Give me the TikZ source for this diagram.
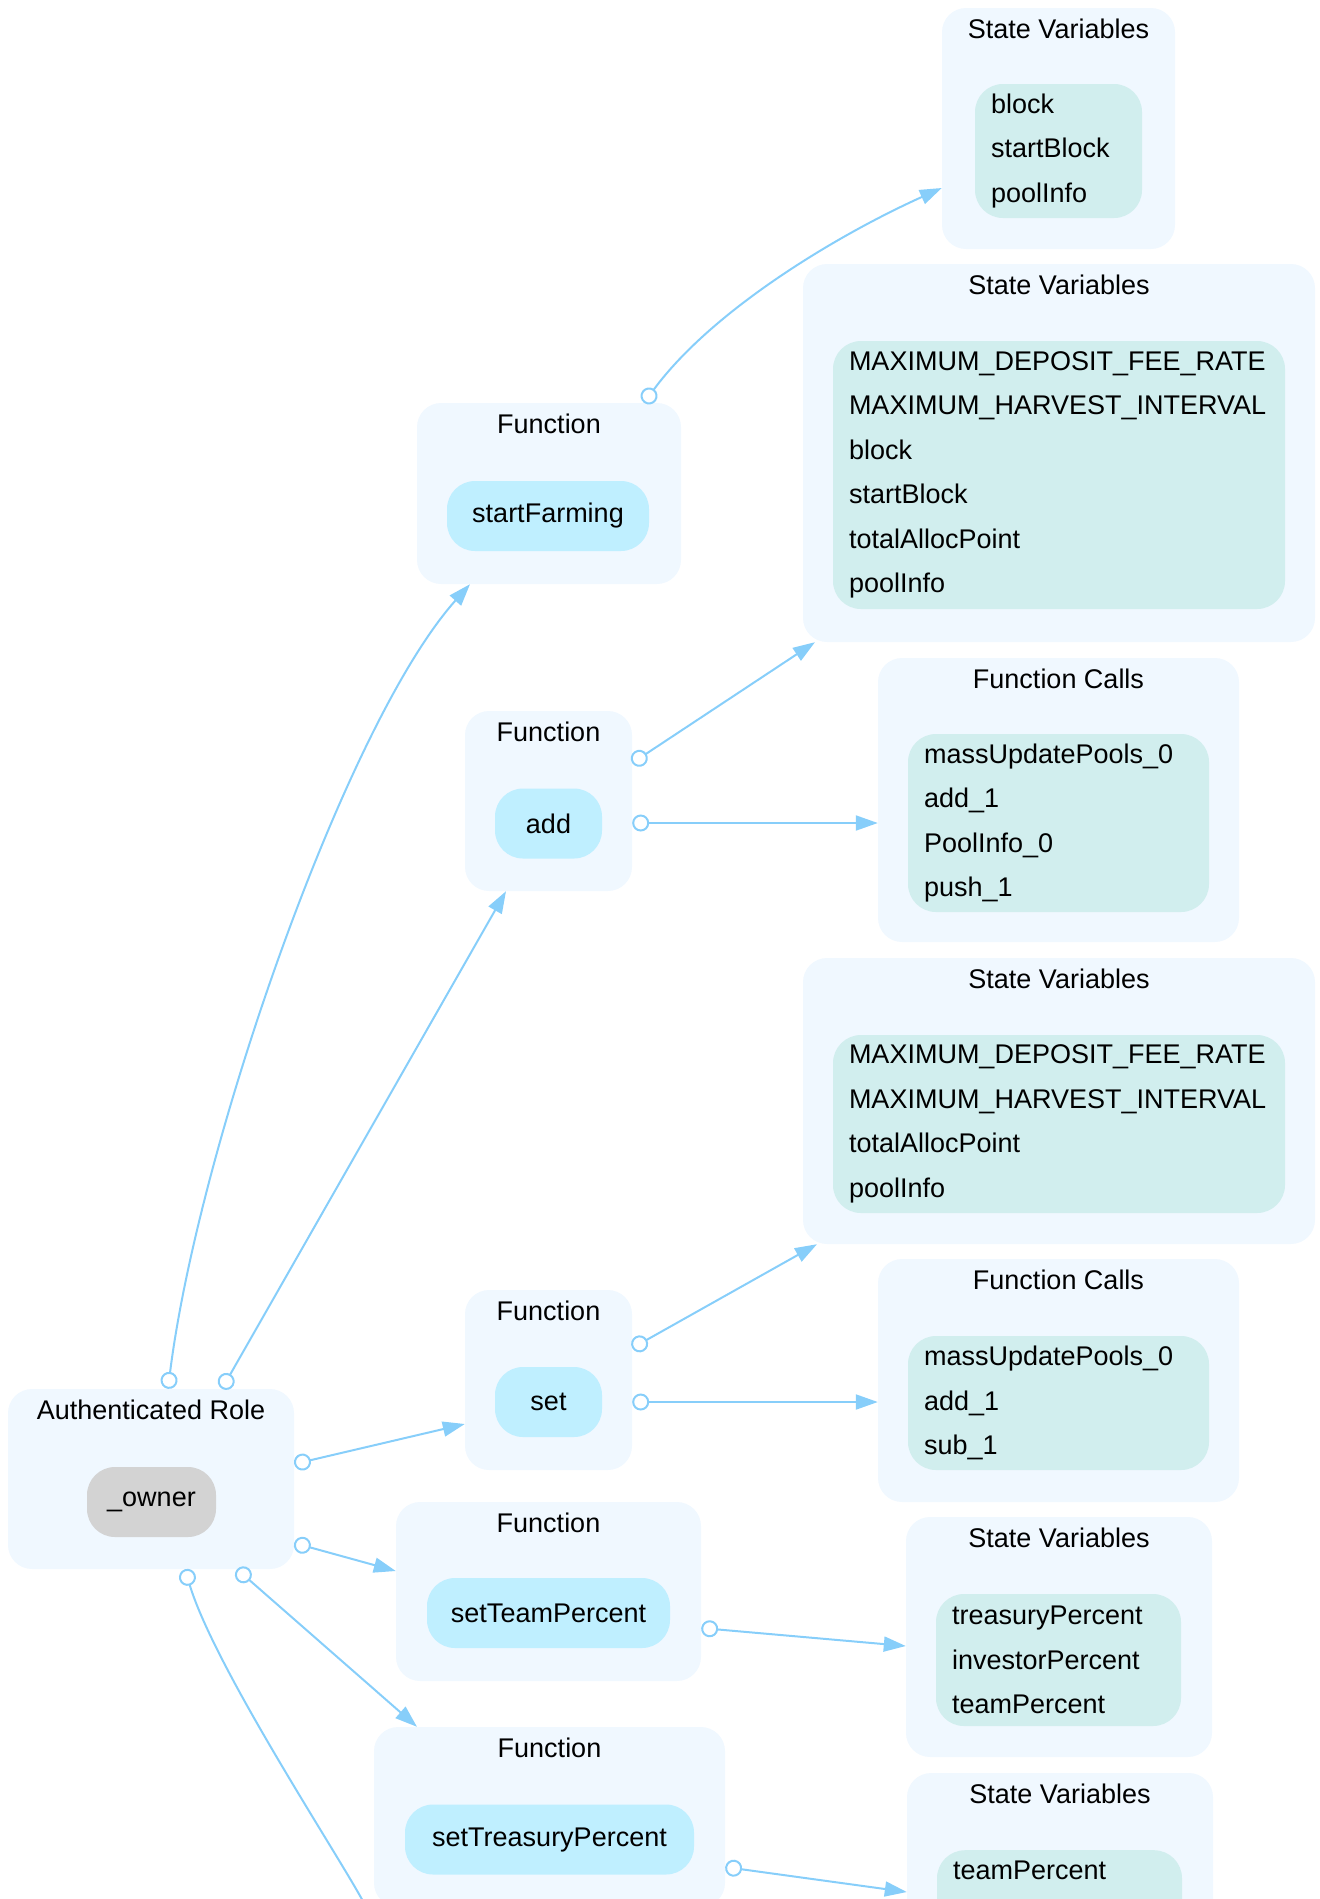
\documentclass[tikz,border=0pt]{standalone}
\usepackage{fontspec}
\setmainfont{Liberation Sans}
\usetikzlibrary{positioning}
\usetikzlibrary{arrows.meta}
\definecolor{clusterbg}{HTML}{F0F8FF}
\definecolor{funcfill}{HTML}{BFEFFF}
\definecolor{varfill}{HTML}{D1EEEE}
\definecolor{rolefill}{HTML}{D3D3D3}
\definecolor{edgeblue}{HTML}{87CEFA}

\begin{document}
\begin{tikzpicture}
          [x=1pt, y=-1pt,
           every node/.style={font=\fontsize{27}{44.5}\selectfont},
           cluster/.style={rectangle, rounded corners=24pt, fill=clusterbg, inner sep=0pt},
           heading/.style={inner sep=0pt},
           func/.style={rectangle, rounded corners=28pt, fill=funcfill, inner sep=0pt, minimum height=70pt},
           vars/.style={rectangle, rounded corners=28pt, fill=varfill, align=left, inner xsep=16pt},
           link/.style={draw=edgeblue, line width=2pt,
             {Circle[open, length=17pt, width=17pt]}-{Triangle[length=22pt, width=15pt]}}]
          \useasboundingbox (0,0) rectangle (1320,1899);
          \clip (0,0) rectangle (1320,1899);

          \node (sv1) [cluster, minimum width=233pt, minimum height=241pt] at (1058.5,128.5) {};
          \node (sv1-title) [heading, below=10.5pt of sv1.north] {State Variables};
          \node (sv1-vars) [vars, text width=135pt, minimum height=134pt] at (1058.5,151) {block\\startBlock\\poolInfo};

          \node (sv2) [cluster, minimum width=512pt, minimum height=378pt] at (1059,453) {};
          \node (sv2-title) [heading, below=10.5pt of sv2.north] {State Variables};
          \node (sv2-vars) [vars, text width=420pt, minimum height=268pt] at (1059,475)
            {MAXIMUM\_DEPOSIT\_FEE\_RATE\\MAXIMUM\_HARVEST\_INTERVAL\\block\\startBlock\\totalAllocPoint\\poolInfo};

          \node (fsf) [cluster, minimum width=264pt, minimum height=181pt] at (549,493.5) {};
          \node (fsf-title) [heading, below=10.5pt of fsf.north] {Function};
          \node (startFarming) [func, minimum width=202pt] at (548,516) {startFarming};

          \node (fadd) [cluster, minimum width=167pt, minimum height=180pt] at (548.5,801) {};
          \node (fadd-title) [heading, below=10.5pt of fadd.north] {Function};
          \node (add) [func, minimum width=107pt] at (548.5,823.5) {add};

          \node (fc1) [cluster, minimum width=361pt, minimum height=284pt] at (1058.5,800) {};
          \node (fc1-title) [heading, below=10.5pt of fc1.north] {Function Calls};
          \node (fc1-calls) [vars, text width=269pt, minimum height=178pt] at (1058.5,823)
            {massUpdatePools\_0\\add\_1\\PoolInfo\_0\\push\_1};

          \node (sv3) [cluster, minimum width=512pt, minimum height=286pt] at (1059,1101) {};
          \node (sv3-title) [heading, below=10.5pt of sv3.north] {State Variables};
          \node (sv3-vars) [vars, text width=420pt, minimum height=178pt] at (1059,1124)
            {MAXIMUM\_DEPOSIT\_FEE\_RATE\\MAXIMUM\_HARVEST\_INTERVAL\\totalAllocPoint\\poolInfo};

          \node (fset) [cluster, minimum width=167pt, minimum height=180pt] at (548.5,1380) {};
          \node (fset-title) [heading, below=10.5pt of fset.north] {Function};
          \node (set) [func, minimum width=107pt] at (548.5,1402) {set};

          \node (fc2) [cluster, minimum width=361pt, minimum height=243pt] at (1058.5,1380.5) {};
          \node (fc2-title) [heading, below=10.5pt of fc2.north] {Function Calls};
          \node (fc2-calls) [vars, text width=269pt, minimum height=134pt] at (1058.5,1403)
            {massUpdatePools\_0\\add\_1\\sub\_1};

          \node (role) [cluster, minimum width=286pt, minimum height=180pt] at (151,1479) {};
          \node (role-title) [heading, below=10.5pt of role.north] {Authenticated Role};
          \node (owner) [func, fill=rolefill, minimum width=129pt] at (151.5,1502) {\_owner};

          \node (fteam) [cluster, minimum width=305pt, minimum height=179pt] at (548.5,1591.5) {};
          \node (fteam-title) [heading, below=10.5pt of fteam.north] {Function};
          \node (setTeamPercent) [func, minimum width=243pt] at (548.5,1613) {setTeamPercent};

          \node (sv4) [cluster, minimum width=306pt, minimum height=240pt] at (1059,1637) {};
          \node (sv4-title) [heading, below=10.5pt of sv4.north] {State Variables};
          \node (sv4-vars) [vars, text width=213pt, minimum height=132pt] at (1058.5,1660)
            {treasuryPercent\\investorPercent\\teamPercent};

          \node (ftreas) [cluster, minimum width=351pt, minimum height=180pt] at (549.5,1817) {};
          \node (ftreas-title) [heading, below=10.5pt of ftreas.north] {Function};
          \node (setTreasuryPercent) [func, minimum width=289pt] at (549.5,1839.5) {setTreasuryPercent};

          \node (sv5) [cluster, minimum width=306pt, minimum height=180pt] at (1060,1863) {};
          \node (sv5-title) [heading, below=10.5pt of sv5.north] {State Variables};
          \node (sv5-vars) [vars, text width=213pt, inner ysep=11pt, text depth=120pt, anchor=north] at (1059.5,1850)
            {teamPercent};

          \coordinate (offpage) at (375,1925);

          \draw[link] ([xshift=95pt]fsf.north) .. controls +(70,-95) and +(-100,45) .. ([yshift=-59.5pt]sv1.west);
          \draw[link] ([yshift=38pt]fadd.east) -- ([xshift=-244pt]sv2.south);
          \draw[link] ([yshift=-22pt]fadd.east) -- ([yshift=-23pt]fc1.west);
          \draw[link] ([yshift=32pt]fset.east) -- ([xshift=-242pt]sv3.south);
          \draw[link] ([yshift=-22pt]fset.east) -- ([yshift=-21.5pt]fc2.west);
          \draw[link] ([yshift=-36.5pt]fteam.east) -- ([yshift=-9pt]sv4.west);
          \draw[link] ([yshift=-50pt]ftreas.east) -- ([yshift=-29pt]sv5.west);

          \draw[link] ([xshift=17pt]role.north) .. controls +(30,-240) and +(-125,140) .. ([xshift=-79pt]fsf.south);
          \draw[link] ([xshift=71pt]role.north) -- ([xshift=-42.5pt]fadd.south);
          \draw[link] ([yshift=15pt]role.east) -- ([yshift=-44pt]fset.west);
          \draw[link] ([yshift=-64pt]role.east) -- ([yshift=20.5pt]fteam.west);
          \draw[link] ([xshift=86pt]role.south) -- ([xshift=-132.5pt]ftreas.north);
          \draw[link] ([xshift=34pt]role.south) .. controls +(30,100) and +(-30,-60) .. (offpage);
        \end{tikzpicture}
\end{document}
